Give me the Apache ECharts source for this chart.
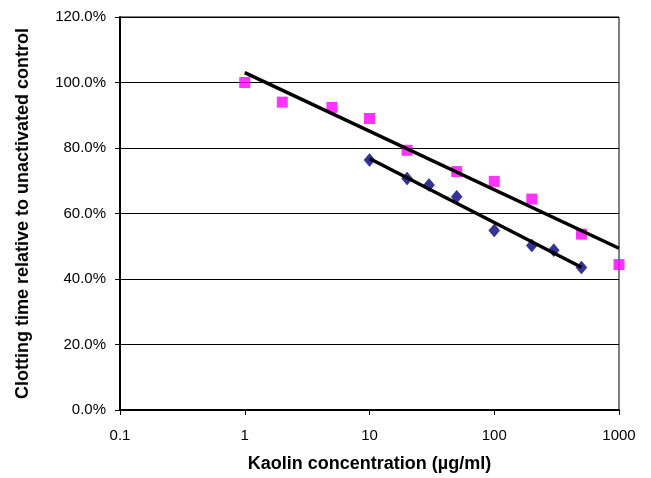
<!DOCTYPE html>
<html><head><meta charset="utf-8">
<script src="https://cdn.jsdelivr.net/npm/echarts@6/dist/echarts.min.js"></script>
<style>html,body{margin:0;padding:0;background:#fff}#c{width:651px;height:478px}</style>
</head><body><div id="c"></div>
<script>
const pinkX = [1, 2, 5, 10, 20, 50, 100, 200, 500, 1000];
const pinkY = [100.0, 94.0, 92.4, 89.0, 79.3, 72.8, 69.8, 64.4, 53.7, 44.4];
const blueX = [10, 20, 30, 50, 100, 200, 300, 500];
const blueY = [76.3, 70.7, 68.7, 65.1, 54.8, 50.2, 48.8, 43.5];
const pinkTrendX = [1, 1000];
const pinkTrendY = [103.0, 49.4];
const blueTrendX = [10, 500];
const blueTrendY = [76.8, 43.6];
const xTitle = 'Kaolin concentration (µg/ml)';
const yTitle = 'Clotting time relative to unactivated control';

const zip = (a, b) => a.map((v, i) => [v, b[i]]);
const font = 'Liberation Sans, Arial, sans-serif';
const chart = echarts.init(document.getElementById('c'));
chart.setOption({
  animation: false,
  grid: {left: 120, top: 17, width: 499, height: 395, show: true, borderColor: '#000', borderWidth: 1},
  xAxis: {
    type: 'log', logBase: 10, min: 0.1, max: 1000,
    name: xTitle, nameLocation: 'middle', nameGap: 45,
    nameTextStyle: {fontFamily: font, fontSize: 18, fontWeight: 'bold', color: '#000'},
    axisLine: {lineStyle: {color: '#000', width: 2}},
    axisTick: {show: true, length: 5, lineStyle: {color: '#000'}},
    axisLabel: {fontFamily: font, fontSize: 15, color: '#000', margin: 18,
      formatter: v => String(+v.toPrecision(6))},
    splitLine: {show: false}, minorTick: {show: false}
  },
  yAxis: {
    type: 'value', min: 0, max: 120, interval: 20,
    name: yTitle, nameLocation: 'middle', nameGap: 88, nameRotate: 90,
    nameTextStyle: {fontFamily: font, fontSize: 18, fontWeight: 'bold', color: '#000'},
    axisLine: {show: true, lineStyle: {color: '#000', width: 2}},
    axisTick: {show: true, length: 5, lineStyle: {color: '#000'}},
    axisLabel: {fontFamily: font, fontSize: 15, color: '#000', margin: 14,
      formatter: v => v.toFixed(1) + '%'},
    splitLine: {show: true, lineStyle: {color: '#000', width: 1}}
  },
  series: [
    {type: 'line', data: zip(pinkTrendX, pinkTrendY), symbol: 'none',
      lineStyle: {color: '#000', width: 3.5}, z: 3},
    {type: 'line', data: zip(blueTrendX, blueTrendY), symbol: 'none',
      lineStyle: {color: '#000', width: 3.5}, z: 3},
    {type: 'scatter', data: zip(pinkX, pinkY), symbol: 'rect', symbolSize: 11,
      itemStyle: {color: '#ff00ff'}, z: 2},
    {type: 'scatter', data: zip(blueX, blueY), symbol: 'diamond', symbolSize: [11, 13],
      itemStyle: {color: '#000080', borderColor: '#000050', borderWidth: 0.5}, z: 2}
  ]
});
</script></body></html>
